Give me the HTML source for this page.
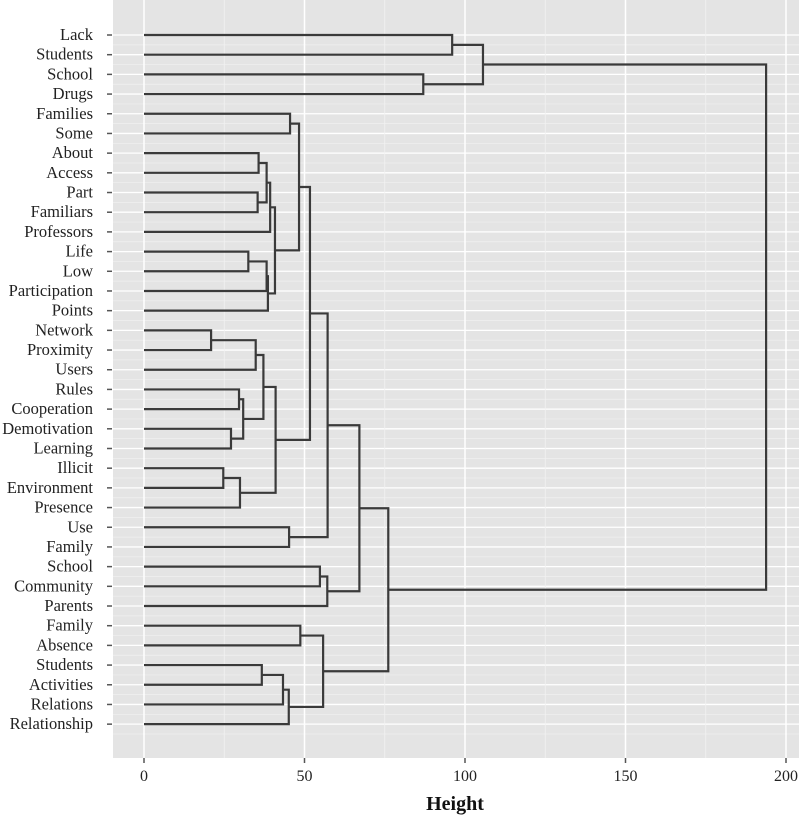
<!DOCTYPE html>
<html><head><meta charset="utf-8"><style>
html,body{margin:0;padding:0;background:#fff;}
svg{display:block;}
</style></head><body>
<svg id="chart" width="800" height="826" xmlns="http://www.w3.org/2000/svg">
<rect x="113" y="0" width="686" height="758" fill="#e4e4e4"/>
<g id="grid"></g>
<g id="links"></g>
<g id="ylabels" font-family="'Liberation Serif', serif" font-size="16.5" fill="#222"></g>
<g id="xaxis" font-family="'Liberation Serif', serif" font-size="16" fill="#222"></g>
<text x="455" y="810" text-anchor="middle" font-family="'Liberation Serif', serif" font-weight="bold" font-size="20" fill="#111">Height</text>
</svg>
<script>
const labels = ["Lack","Students","School","Drugs","Families","Some","About","Access","Part","Familiars","Professors","Life","Low","Participation","Points","Network","Proximity","Users","Rules","Cooperation","Demotivation","Learning","Illicit","Environment","Presence","Use","Family","School","Community","Parents","Family","Absence","Students","Activities","Relations","Relationship"];
// merges: negative = leaf index (1-based), positive = earlier merge (1-based)
const mergeLeft  = [-16,-23,-21,-19,2,4,-12,1,-9,-7,-33,8,10,7,14,13,16,12,11,19,-26,-5,22,-31,23,-28,24,26,25,29,30,-3,-1,33,34];
const mergeRight = [-17,-24,-22,-20,-25,3,-13,-18,-10,-8,-34,6,9,-14,-15,-11,15,5,-35,-36,-27,-6,17,-32,18,-29,20,-30,21,28,27,-4,-2,32,31];
const mergeHeight = [20.9,24.7,27.1,29.6,29.9,30.9,32.5,34.8,35.4,35.7,36.7,37.2,38.2,38.2,38.6,39.3,40.8,41,43.3,45.1,45.2,45.5,48.3,48.7,51.7,54.8,55.8,57.1,57.2,67.1,76.1,87,96,105.6,193.8];
const xTicks = [0,50,100,150,200];
const xMinor = [25,75,125,175];

const NS = "http://www.w3.org/2000/svg";
const X = v => 144 + v * 3.21;
const Y = i => 35 + i * 19.69;
function mk(tag, attrs, parent){const e=document.createElementNS(NS,tag);for(const k in attrs)e.setAttribute(k,attrs[k]);parent.appendChild(e);return e;}
const grid = document.getElementById('grid'), links = document.getElementById('links');
const yl = document.getElementById('ylabels'), xa = document.getElementById('xaxis');

for (let i = 0; i < labels.length; i++) {
  let g = mk('line',{x1:113,x2:799,y1:Y(i),y2:Y(i),stroke:'#fff','stroke-width':1.3},grid);
  
  
  let m = mk('line',{x1:113,x2:799,y1:Y(i)+9.85,y2:Y(i)+9.85,stroke:'#f0f0f0','stroke-width':0.7},grid);
  
  
  let t = mk('line',{x1:107,x2:112,y1:Y(i),y2:Y(i),stroke:'#555','stroke-width':1.5},yl);
  
  
  let tx = mk('text',{x:93,y:Y(i)+5,'text-anchor':'end'},yl);
  tx.textContent = labels[i];
  
  
}
xMinor.forEach(v=>{
  let g = mk('line',{x1:X(v),x2:X(v),y1:0,y2:758,stroke:'#f2f2f2','stroke-width':0.8},grid);
  
  
});
xTicks.forEach(v=>{
  let g = mk('line',{x1:X(v),x2:X(v),y1:0,y2:758,stroke:'#fff','stroke-width':1.5},grid);
  
  
  let t = mk('line',{x1:X(v),x2:X(v),y1:758,y2:763,stroke:'#555','stroke-width':1.5},xa);
  
  
  let tx = mk('text',{x:X(v),y:781,'text-anchor':'middle'},xa);
  tx.textContent = v;
  
  
});

const pos = [], hgt = [];
function node(id){ return id < 0 ? {y:Y(-id-1), h:0} : {y:pos[id-1], h:hgt[id-1]}; }
for (let k = 0; k < mergeHeight.length; k++) {
  const a = node(mergeLeft[k]), b = node(mergeRight[k]), h = mergeHeight[k];
  pos.push((a.y+b.y)/2); hgt.push(h);
  const d = `M${X(a.h)},${a.y}H${X(h)}V${b.y}H${X(b.h)}`;
  let p = mk('path',{d:d,fill:'none',stroke:'#3a3a3a','stroke-width':2.2,'stroke-linejoin':'miter'},links);
  
  
}
</script>
</body></html>
